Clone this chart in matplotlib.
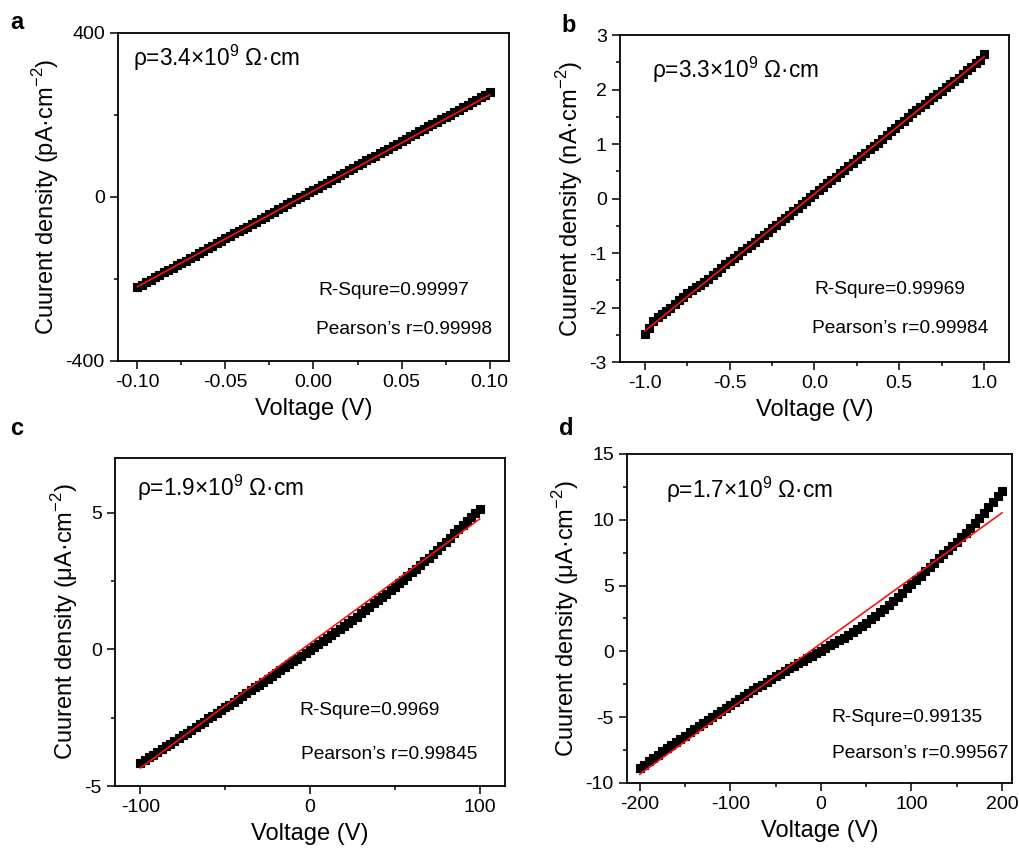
import numpy as np
import matplotlib
matplotlib.use('Agg')
import matplotlib.pyplot as plt
from matplotlib.ticker import MultipleLocator

plt.rcParams['font.family'] = ['Liberation Sans', 'DejaVu Sans']
plt.rcParams['mathtext.fontset'] = 'custom'
plt.rcParams['mathtext.rm'] = 'Liberation Sans'
plt.rcParams['axes.unicode_minus'] = False

# voltage sweeps (81 points each)
volt_a = np.linspace(-0.1, 0.1, 81)
volt_b = np.linspace(-1.0, 1.0, 81)
volt_c = np.linspace(-100, 100, 81)
volt_d = np.linspace(-200, 200, 81)

# current density
cur_a = [-220, -214, -208, -202, -196, -190, -184, -178, -172, -166,
         -161, -155, -149, -143, -137, -131, -125, -119, -113, -107,
         -101, -95, -89, -83, -77, -72, -66, -60, -54, -48,
         -42, -36, -30, -24, -18, -12, -6, 0, 6, 12,
         17, 23, 29, 35, 41, 47, 53, 59, 65, 71,
         77, 83, 89, 95, 101, 107, 112, 118, 124, 130,
         136, 142, 148, 154, 160, 166, 172, 178, 184, 190,
         196, 201, 207, 213, 219, 225, 231, 237, 243, 249, 255]

cur_b = [-2.48, -2.38, -2.25, -2.18, -2.12, -2.06, -2.00, -1.94, -1.87, -1.81,
         -1.74, -1.68, -1.63, -1.58, -1.53, -1.47, -1.41, -1.34, -1.27, -1.21,
         -1.15, -1.09, -1.03, -0.97, -0.91, -0.85, -0.79, -0.73, -0.67, -0.61,
         -0.55, -0.49, -0.42, -0.36, -0.30, -0.23, -0.17, -0.10, -0.04, 0.02,
         0.08, 0.15, 0.21, 0.28, 0.34, 0.40, 0.47, 0.53, 0.59, 0.65,
         0.72, 0.78, 0.84, 0.90, 0.96, 1.02, 1.09, 1.16, 1.23, 1.30,
         1.37, 1.43, 1.50, 1.56, 1.62, 1.68, 1.74, 1.80, 1.86, 1.92,
         1.98, 2.04, 2.10, 2.16, 2.22, 2.28, 2.35, 2.41, 2.48, 2.55, 2.65]

cur_c = [-4.15, -4.05, -3.95, -3.85, -3.75, -3.65, -3.55, -3.45, -3.35, -3.25,
         -3.15, -3.05, -2.94, -2.84, -2.74, -2.64, -2.53, -2.43, -2.33, -2.22,
         -2.12, -2.02, -1.91, -1.81, -1.70, -1.60, -1.50, -1.39, -1.29, -1.18,
         -1.08, -0.97, -0.87, -0.76, -0.66, -0.55, -0.44, -0.34, -0.23, -0.13,
         -0.02, 0.09, 0.20, 0.31, 0.42, 0.53, 0.64, 0.75, 0.86, 0.97,
         1.08, 1.20, 1.32, 1.44, 1.56, 1.68, 1.80, 1.92, 2.04, 2.16,
         2.28, 2.41, 2.55, 2.68, 2.82, 2.95, 3.09, 3.22, 3.36, 3.49,
         3.63, 3.78, 3.93, 4.09, 4.24, 4.39, 4.54, 4.69, 4.85, 5.00, 5.15]

cur_d = [-8.85, -8.60, -8.35, -8.10, -7.85, -7.60, -7.36, -7.12, -6.88, -6.64,
         -6.40, -6.16, -5.92, -5.68, -5.44, -5.20, -4.97, -4.74, -4.51, -4.28,
         -4.05, -3.83, -3.61, -3.39, -3.17, -2.95, -2.74, -2.53, -2.32, -2.11,
         -1.90, -1.70, -1.50, -1.30, -1.10, -0.90, -0.71, -0.52, -0.33, -0.14,
         0.05, 0.25, 0.45, 0.65, 0.85, 1.05, 1.27, 1.49, 1.71, 1.93,
         2.15, 2.42, 2.69, 2.96, 3.23, 3.50, 3.82, 4.14, 4.46, 4.78,
         5.10, 5.43, 5.76, 6.09, 6.42, 6.75, 7.06, 7.37, 7.68, 7.99,
         8.30, 8.66, 9.02, 9.38, 9.74, 10.10, 10.52, 10.94, 11.36, 11.78, 12.20]

# linear fit end points (at the sweep limits)
fit_a = [-219, 249]
fit_b = [-2.43, 2.60]
fit_c = [-4.34, 4.77]
fit_d = [-9.34, 10.53]

rho_labels = ['ρ=3.4×10$^{\\mathregular{9}}$ Ω·cm', 'ρ=3.3×10$^{\\mathregular{9}}$ Ω·cm',
              'ρ=1.9×10$^{\\mathregular{9}}$ Ω·cm', 'ρ=1.7×10$^{\\mathregular{9}}$ Ω·cm']
r_square = ['R-Squre=0.99997', 'R-Squre=0.99969', 'R-Squre=0.9969', 'R-Squre=0.99135']
pearson = ['Pearson’s r=0.99998', 'Pearson’s r=0.99984', 'Pearson’s r=0.99845', 'Pearson’s r=0.99567']
units = ['pA', 'nA', 'μA', 'μA']
letters = ['a', 'b', 'c', 'd']

fig = plt.figure(figsize=(10.2, 8.48), dpi=100)

boxes = [[0.1157, 0.5743, 0.3833, 0.3868],
         [0.6078, 0.5731, 0.3814, 0.3856],
         [0.1127, 0.0731, 0.3824, 0.3868],
         [0.6147, 0.0767, 0.3775, 0.3880]]
xlims = [(-0.111, 0.111), (-1.147, 1.147), (-115, 115), (-214, 211)]
ylims = [(-400, 400), (-3, 3), (-5, 7), (-10, 15)]
xmaj = [0.05, 0.5, 100, 100]
xmin = [0.025, 0.25, 50, 50]
ymaj = [400, 1, 5, 5]
ymin = [200, 0.5, 2.5, 2.5]
rho_pos = [(0.038, 0.924), (0.082, 0.893), (0.056, 0.909), (0.101, 0.891)]
r_pos = [(0.512, 0.216), (0.501, 0.223), (0.472, 0.229), (0.532, 0.198)]
p_pos = [(0.506, 0.095), (0.494, 0.101), (0.477, 0.095), (0.532, 0.091)]
letter_pos = [(0.010, 0.974), (0.550, 0.970), (0.010, 0.495), (0.548, 0.495)]

volts = [volt_a, volt_b, volt_c, volt_d]
currents = [cur_a, cur_b, cur_c, cur_d]
fits = [fit_a, fit_b, fit_c, fit_d]

for i in range(4):
    ax = fig.add_axes(boxes[i])
    v = volts[i]
    ax.plot(v, currents[i], 's', color='black', markersize=6.2,
            markeredgewidth=0.8, zorder=2)
    ax.plot([v[0], v[-1]], fits[i], '-', color='#ff1010', linewidth=1.2, zorder=3)
    ax.set_xlim(*xlims[i])
    ax.set_ylim(*ylims[i])
    ax.xaxis.set_major_locator(MultipleLocator(xmaj[i]))
    ax.xaxis.set_minor_locator(MultipleLocator(xmin[i]))
    ax.yaxis.set_major_locator(MultipleLocator(ymaj[i]))
    ax.yaxis.set_minor_locator(MultipleLocator(ymin[i]))
    if i == 0:
        ax.xaxis.set_major_formatter(plt.FormatStrFormatter('%.2f'))
    if i == 1:
        ax.xaxis.set_major_formatter(plt.FormatStrFormatter('%.1f'))
    ax.tick_params(which='both', direction='out', labelsize=14, width=1.1)
    ax.tick_params(which='major', length=6)
    ax.tick_params(which='minor', length=3)
    for sp in ax.spines.values():
        sp.set_linewidth(1.3)
    ax.set_xlabel('Voltage (V)', fontsize=17, labelpad=5)
    ax.set_ylabel('Cuurent density (' + units[i] + '·cm$^{\\mathregular{-2}}$)',
                  fontsize=17, labelpad=3)
    ax.text(rho_pos[i][0], rho_pos[i][1], rho_labels[i], transform=ax.transAxes,
            fontsize=16.3, va='center', ha='left')
    ax.text(r_pos[i][0], r_pos[i][1], r_square[i], transform=ax.transAxes,
            fontsize=13.8, va='center', ha='left')
    ax.text(p_pos[i][0], p_pos[i][1], pearson[i], transform=ax.transAxes,
            fontsize=13.8, va='center', ha='left')
    fig.text(letter_pos[i][0], letter_pos[i][1], letters[i], fontsize=17,
             fontweight='bold', va='center', ha='left')

fig.savefig('out.png', dpi=100)
